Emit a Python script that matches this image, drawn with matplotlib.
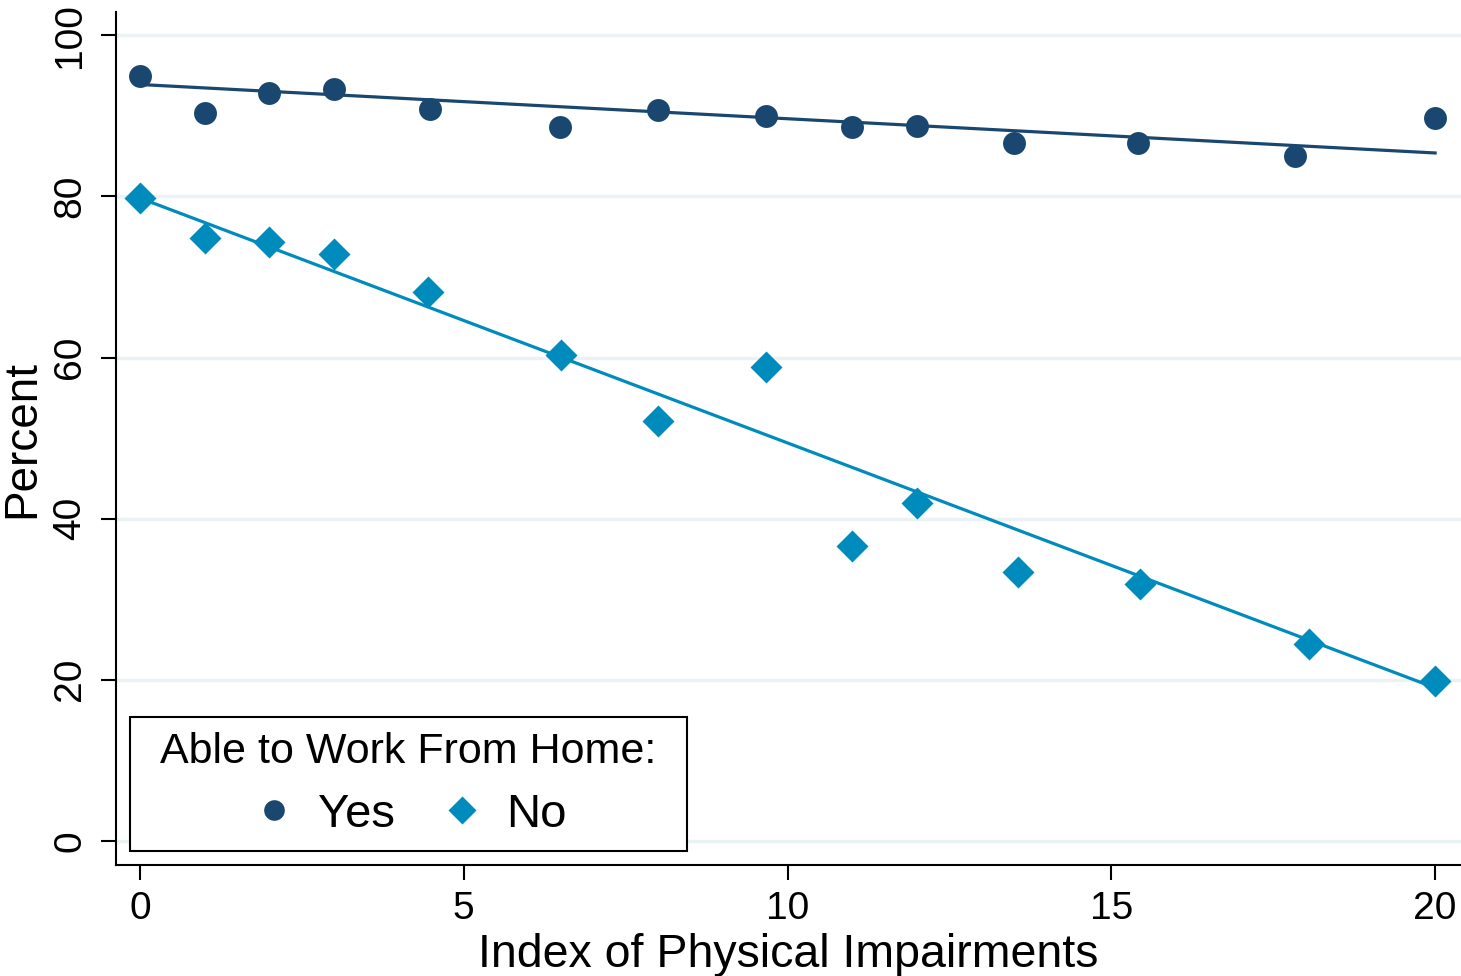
import numpy as np
import matplotlib
matplotlib.use("Agg")
import matplotlib.pyplot as plt
from matplotlib.patches import Rectangle

plt.rcParams['font.family'] = ['Liberation Sans', 'DejaVu Sans']

# valores
indice_sim = [0, 1.0, 2.0, 3.0, 4.48, 6.49, 8.0, 9.67, 11.0, 12.0, 13.5, 15.41, 17.84, 20.0]
pct_sim = [95.0, 90.3, 92.8, 93.4, 90.8, 88.6, 90.7, 90.0, 88.6, 88.8, 86.6, 86.6, 85.0, 89.7]

indice_nao = [0, 1.0, 2.0, 3.0, 4.45, 6.5, 8.0, 9.67, 11.0, 12.0, 13.56, 15.44, 18.05, 20.0]
pct_nao = [79.8, 74.9, 74.4, 72.8, 68.1, 60.3, 52.1, 58.8, 36.6, 41.9, 33.4, 31.9, 24.4, 19.9]

# retas ajustadas (intercepto, inclinacao)
ajuste_sim = (93.9, -0.425)
ajuste_nao = (79.8, -3.04)

cor_sim = "#1a476f"
cor_nao = "#008bbd"

fig = plt.figure(figsize=(14.61, 9.76), dpi=100)
ax = fig.add_axes([0.0794, 0.1137, 0.9206, 0.874])

for xs, (a, b), cor in [(indice_sim, ajuste_sim, cor_sim), (indice_nao, ajuste_nao, cor_nao)]:
    xx = np.array([min(xs), max(xs)])
    ax.plot(xx, a + b * xx, color=cor, lw=2.3, zorder=2)

ax.plot(indice_sim, pct_sim, 'o', color=cor_sim, ms=16.5, mec='none', label="Yes", zorder=3)
ax.plot(indice_nao, pct_nao, 'D', color=cor_nao, ms=16, mec='none', label="No", zorder=3)

ax.set_xlim(-0.37, 20.4)
ax.set_ylim(-3, 102.9)
ax.set_xticks([0, 5, 10, 15, 20])
ax.set_yticks([0, 20, 40, 60, 80, 100])
ax.set_yticklabels(["0", "20", "40", "60", "80", "100"], rotation=90, va='center')
ax.tick_params(axis='both', labelsize=28, length=11, width=1.5, direction='out', pad=8)
ax.tick_params(axis='y', pad=9)
ax.grid(axis='y', color='#eaf2f3', lw=2.5)
ax.set_axisbelow(True)
for s in ['top', 'right']:
    ax.spines[s].set_visible(False)
for s in ['left', 'bottom']:
    ax.spines[s].set_linewidth(1.5)

ax.set_xlabel("Index of Physical Impairments", fontsize=33.5, labelpad=4)
ax.set_ylabel("Percent", fontsize=33, labelpad=6)

leg = ax.legend(title="Able to Work From Home:", ncol=2, loc='lower left',
                bbox_to_anchor=(0.0224, 0.0164), borderaxespad=0, fontsize=34,
                title_fontsize=31, frameon=False,
                handletextpad=0.45, columnspacing=0.9, borderpad=0.3,
                labelspacing=0.45, handlelength=1.0, markerscale=0.9)
leg.set_zorder(6)

# moldura da legenda um pouco mais larga que o padrao
fig.canvas.draw()
bb = leg.get_window_extent().transformed(fig.transFigure.inverted())
px = 16 / fig.bbox.width
moldura = Rectangle((bb.x0 - px, bb.y0), bb.width + 2 * px, bb.height,
                    transform=fig.transFigure, facecolor='white',
                    edgecolor='black', lw=1.5, zorder=5, clip_on=False)
ax.add_patch(moldura)

fig.savefig("out.png", dpi=100)
